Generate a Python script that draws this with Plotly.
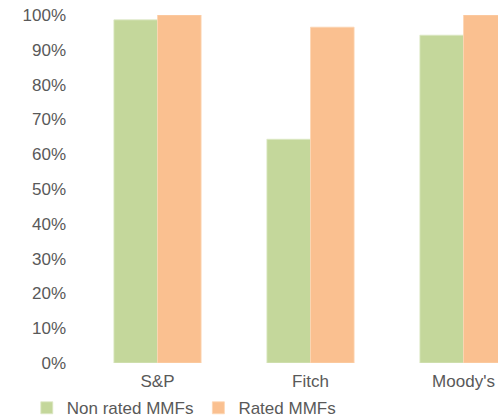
import plotly.graph_objects as go

categories = ["S&P", "Fitch", "Moody's"]
non_rated = [0.986, 0.643, 0.942]
rated = [1.0, 0.965, 1.0]
y_ticks = [0, 0.1, 0.2, 0.3, 0.4, 0.5, 0.6, 0.7, 0.8, 0.9, 1.0]

GREEN = "#C4D79B"
ORANGE = "#FAC090"
TEXT = "#595959"
FONT = "Liberation Sans, Arial, sans-serif"

fig = go.Figure()
fig.add_trace(go.Bar(x=categories, y=non_rated, name="Non rated MMFs",
                     marker=dict(color=GREEN, line=dict(color="#DDE8C6", width=0.8))))
fig.add_trace(go.Bar(x=categories, y=rated, name="Rated MMFs",
                     marker=dict(color=ORANGE, line=dict(color="#FCD5B4", width=0.8))))

fig.update_layout(
    width=498, height=418,
    margin=dict(l=81, r=0, t=15, b=55, autoexpand=False),
    paper_bgcolor="white", plot_bgcolor="white",
    barmode="group", bargap=0.43, bargroupgap=0,
    font=dict(family=FONT, size=17, color=TEXT),
    showlegend=True,
    legend=dict(orientation="h", x=-0.13, xanchor="left", y=-0.13, yanchor="middle",
                font=dict(size=17, color=TEXT), itemwidth=30, traceorder="normal",
                bgcolor="rgba(0,0,0,0)"),
)
fig.update_xaxes(range=[-0.5, 2.2255], showgrid=False, zeroline=False, showline=False,
                 automargin=False, ticks="", ticklabelstandoff=6,
                 tickfont=dict(size=17, color=TEXT))
fig.update_yaxes(range=[0, 1.0], tickvals=y_ticks, tickformat=".0%", showgrid=False,
                 zeroline=False, showline=False, automargin=False, ticks="",
                 ticklabelstandoff=14, tickfont=dict(size=17, color=TEXT))

fig.write_html("out.html", config={"displayModeBar": False},
               post_script="document.body.style.margin='0';")
